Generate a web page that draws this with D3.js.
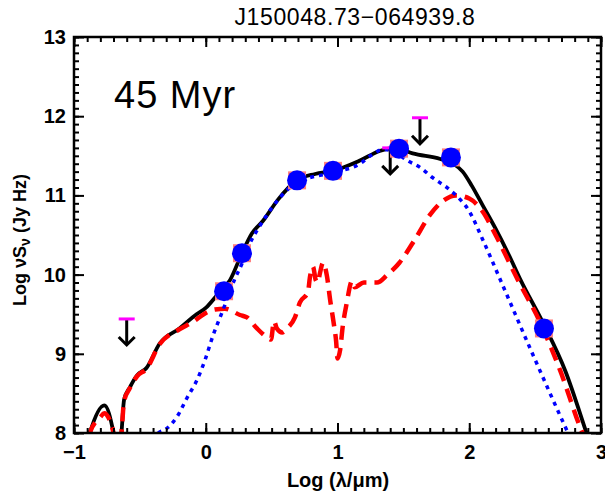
<!DOCTYPE html>
<html>
<head>
<meta charset="utf-8">
<script src="https://cdn.jsdelivr.net/npm/d3@7"></script>
<style>
  body { margin: 0; background: #fff; }
  text { font-family: "Liberation Sans", Arial, sans-serif; }
</style>
</head>
<body>
<main></main>
<script>
// photometry (log lambda / micron, log nu S_nu)
const photX = [0.139, 0.275, 0.693, 0.966, 1.467, 1.861, 2.567];
const photY = [9.79, 10.27, 11.19, 11.31, 11.59, 11.48, 9.32];

// upper limits
const limX = [-0.60, 1.40, 1.626];
const limY = [9.44, 11.60, 11.98];

// total model (black solid)
const totX = [-0.92, -0.88, -0.77, -0.70, -0.67, -0.64, -0.62, -0.575, -0.52, -0.45, -0.35, -0.20, -0.07, 0.0,
  0.085, 0.184, 0.275, 0.35, 0.435, 0.55, 0.69, 0.83, 0.966, 1.17, 1.32, 1.44, 1.57, 1.78, 1.88, 1.95, 2.02,
  2.10, 2.20, 2.30, 2.39, 2.56, 2.73, 2.89, 2.95];
const totY = [7.75, 8.0, 8.35, 8.0, 7.7, 8.0, 8.42, 8.58, 8.73, 8.82, 9.13, 9.32, 9.50, 9.58,
  9.74, 9.93, 10.27, 10.52, 10.68, 10.95, 11.19, 11.27, 11.31, 11.44, 11.56, 11.60, 11.53, 11.46, 11.40, 11.30, 11.12,
  10.88, 10.58, 10.25, 9.93, 9.39, 8.78, 8.0, 7.7];

// disk component (red dashed)
const diskX = [-0.92, -0.88, -0.80, -0.77, -0.74, -0.70, -0.67, -0.64, -0.62, -0.575, -0.52, -0.45, -0.35, -0.20,
  -0.10, -0.006, 0.07, 0.146, 0.26, 0.313, 0.389, 0.472, 0.495, 0.518, 0.54, 0.58, 0.617, 0.677, 0.715, 0.776,
  0.79, 0.814, 0.835, 0.85, 0.867, 0.89, 0.92, 0.945, 0.97, 0.99, 1.0, 1.02, 1.04, 1.07, 1.11, 1.13, 1.20, 1.30,
  1.38, 1.47, 1.59, 1.70, 1.80, 1.90, 2.0, 2.10, 2.20, 2.37, 2.54, 2.69, 2.86, 2.95];
const diskY = [7.7, 8.0, 8.2, 8.25, 8.2, 8.0, 7.7, 8.0, 8.4, 8.57, 8.72, 8.81, 9.12, 9.31,
  9.40, 9.51, 9.56, 9.57, 9.49, 9.46, 9.32, 9.20, 9.18, 9.41, 9.32, 9.27, 9.32, 9.46, 9.65, 9.78,
  9.96, 10.10, 9.93, 9.90, 10.02, 10.15, 9.98, 9.67, 9.40, 9.15, 8.94, 9.05, 9.35, 9.64, 9.92, 9.84, 9.90, 9.90,
  10.0, 10.15, 10.45, 10.75, 10.93, 11.0, 10.96, 10.80, 10.50, 9.93, 9.39, 8.79, 8.0, 7.7];

// stellar photosphere (blue dotted)
const starX = [-0.40, -0.36, -0.31, -0.22, -0.14, -0.066, -0.006, 0.055, 0.123, 0.222, 0.275, 0.32, 0.39, 0.435,
  0.69, 0.966, 1.17, 1.25, 1.35, 1.42, 1.53, 1.63, 1.725, 1.83, 1.90, 2.0, 2.10, 2.25, 2.48, 2.75, 2.82];
const starY = [7.9, 8.0, 8.04, 8.2, 8.45, 8.67, 8.92, 9.23, 9.52, 9.95, 10.14, 10.34, 10.56, 10.68,
  11.16, 11.29, 11.40, 11.50, 11.58, 11.56, 11.44, 11.35, 11.22, 11.10, 11.0, 10.80, 10.45, 9.88, 9.0, 8.0, 7.75];

const xTicks = [-1, 0, 1, 2, 3];
const yTicks = [8, 9, 10, 11, 12, 13];

const W = 605, H = 493;
const mL = 74, mR = 601, mT = 37, mB = 433;

const svg = d3.select('main').append('svg').attr('width', W).attr('height', H);

const x = d3.scaleLinear().domain([-1, 3]).range([mL, mR]);
const y = d3.scaleLinear().domain([8, 13]).range([mB, mT]);

svg.append('clipPath').attr('id', 'plot')
  .append('rect').attr('x', mL).attr('y', mT).attr('width', mR - mL).attr('height', mB - mT);

const g = svg.append('g').attr('clip-path', 'url(#plot)');
const line = d3.line().x(d => x(d[0])).y(d => y(d[1])).curve(d3.curveMonotoneX);

// upper limits: magenta bar + black arrow
const lims = d3.zip(limX, limY);
const lg = svg.append('g');
lims.forEach(d => {
  const px = x(d[0]), py = y(d[1]);
  lg.append('line').attr('x1', px).attr('x2', px).attr('y1', py).attr('y2', py + 25)
    .attr('stroke', '#000').attr('stroke-width', 3);
  lg.append('path').attr('d', `M${px - 8},${py + 18} L${px},${py + 26} L${px + 8},${py + 18}`)
    .attr('fill', 'none').attr('stroke', '#000').attr('stroke-width', 3);
  lg.append('line').attr('x1', px - 8).attr('x2', px + 8).attr('y1', py).attr('y2', py)
    .attr('stroke', '#f0f').attr('stroke-width', 3);
});

g.append('path').datum(d3.zip(totX, totY)).attr('d', line)
  .attr('fill', 'none').attr('stroke', '#000').attr('stroke-width', 3.8);
g.append('path').datum(d3.zip(diskX, diskY)).attr('d', line)
  .attr('fill', 'none').attr('stroke', '#ff0000').attr('stroke-width', 4.5).attr('stroke-dasharray', '14,8');
g.append('path').datum(d3.zip(starX, starY)).attr('d', line)
  .attr('fill', 'none').attr('stroke', '#0000ff').attr('stroke-width', 3.5).attr('stroke-dasharray', '4,5');

const phot = d3.zip(photX, photY);
svg.append('g').selectAll('rect').data(phot).enter().append('rect')
  .attr('x', d => x(d[0]) - 9).attr('y', d => y(d[1]) - 9)
  .attr('width', 18).attr('height', 18).attr('fill', '#ff8080');
svg.append('g').selectAll('circle').data(phot).enter().append('circle')
  .attr('cx', d => x(d[0])).attr('cy', d => y(d[1])).attr('r', 10).attr('fill', '#0000ff');

// axes: inward ticks on all four sides
const minorX = d3.range(-10, 31).map(v => v / 10);
const minorY = d3.range(80, 131).map(v => v / 10);
const tickStyle = sel => {
  sel.select('.domain').remove();
  sel.selectAll('line').attr('stroke', '#000').attr('stroke-width', 2);
};
svg.append('g').attr('transform', `translate(0,${mB})`)
  .call(d3.axisBottom(x).tickValues(minorX).tickSize(-5).tickFormat('')).call(tickStyle);
svg.append('g').attr('transform', `translate(0,${mT})`)
  .call(d3.axisTop(x).tickValues(minorX).tickSize(-5).tickFormat('')).call(tickStyle);
svg.append('g').attr('transform', `translate(${mL},0)`)
  .call(d3.axisLeft(y).tickValues(minorY).tickSize(-5).tickFormat('')).call(tickStyle);
svg.append('g').attr('transform', `translate(${mR},0)`)
  .call(d3.axisRight(y).tickValues(minorY).tickSize(-5).tickFormat('')).call(tickStyle);

const xAxis = svg.append('g').attr('transform', `translate(0,${mB})`)
  .call(d3.axisBottom(x).tickValues(xTicks).tickSize(-10).tickPadding(12).tickFormat(d3.format('d')))
  .call(tickStyle);
svg.append('g').attr('transform', `translate(0,${mT})`)
  .call(d3.axisTop(x).tickValues(xTicks).tickSize(-10).tickFormat('')).call(tickStyle);
const yAxis = svg.append('g').attr('transform', `translate(${mL},0)`)
  .call(d3.axisLeft(y).tickValues(yTicks).tickSize(-10).tickPadding(8).tickFormat(d3.format('d')))
  .call(tickStyle);
svg.append('g').attr('transform', `translate(${mR},0)`)
  .call(d3.axisRight(y).tickValues(yTicks).tickSize(-10).tickFormat('')).call(tickStyle);

xAxis.selectAll('text').attr('font-size', 20).attr('font-weight', 'bold').attr('fill', '#000')
  .attr('font-family', '"Liberation Sans", Arial, sans-serif');
yAxis.selectAll('text').attr('font-size', 20).attr('font-weight', 'bold').attr('fill', '#000')
  .attr('font-family', '"Liberation Sans", Arial, sans-serif');

svg.append('rect').attr('x', mL).attr('y', mT).attr('width', mR - mL).attr('height', mB - mT)
  .attr('fill', 'none').attr('stroke', '#000').attr('stroke-width', 2.5);

// texts
svg.append('text').attr('x', 355).attr('y', 25).attr('text-anchor', 'middle')
  .attr('font-size', 23).attr('font-family', '"DejaVu Sans", sans-serif')
  .attr('letter-spacing', 0.6)
  .text('J150048.73−064939.8');

svg.append('text').attr('x', 338).attr('y', 487).attr('text-anchor', 'middle')
  .attr('font-size', 20).attr('font-weight', 'bold').text('Log (λ/μm)');

const yl = svg.append('text').attr('transform', 'translate(26,240) rotate(-90)')
  .attr('text-anchor', 'middle').attr('font-size', 18).attr('font-weight', 'bold');
yl.append('tspan').text('Log νS');
yl.append('tspan').attr('font-size', 14).attr('dy', 4).text('ν');
yl.append('tspan').attr('dy', -4).text(' (Jy Hz)');

svg.append('text').attr('x', 114).attr('y', 108)
  .attr('font-size', 38).attr('font-family', 'Lato, "Open Sans", sans-serif')
  .attr('letter-spacing', 1)
  .text('45 Myr');
</script>
</body>
</html>
